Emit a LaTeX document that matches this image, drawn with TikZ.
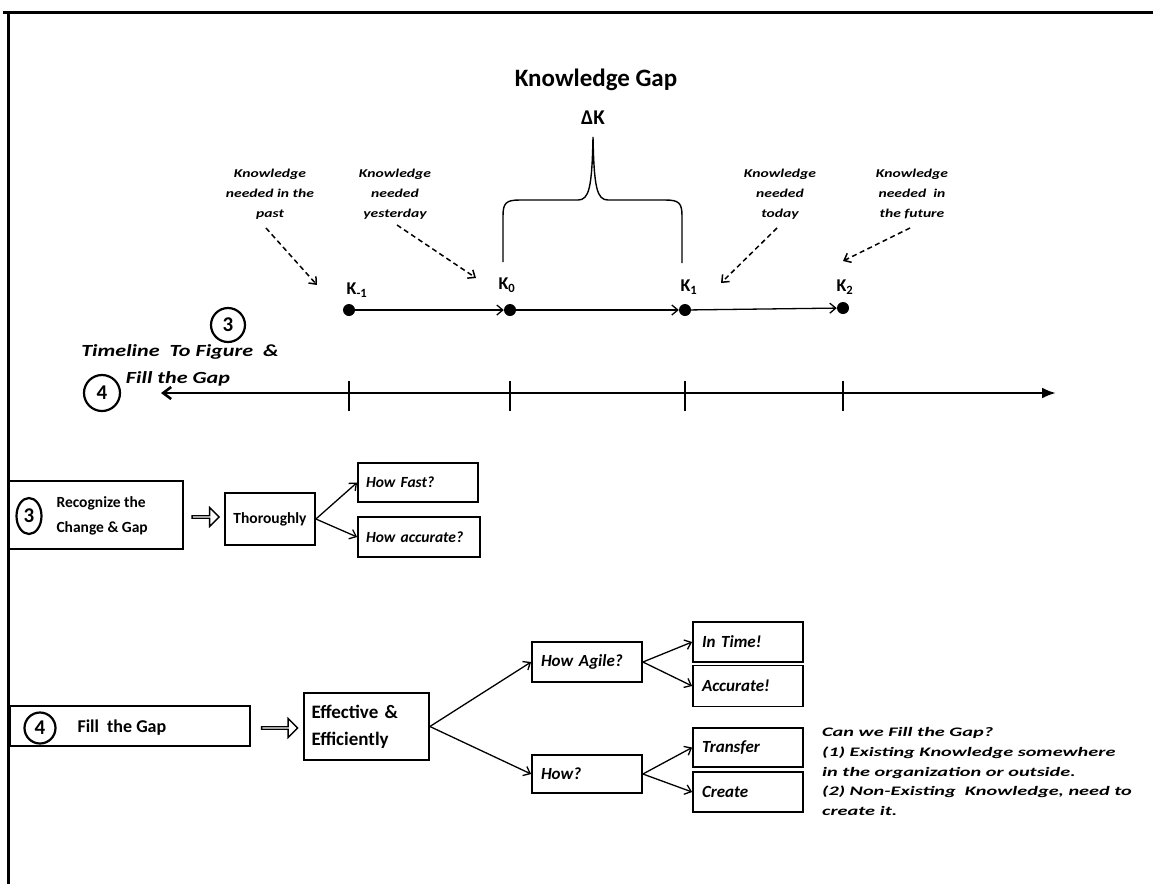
\documentclass[tikz,border=0pt]{standalone}
\usepackage{fontspec}
\setmainfont{Carlito}
\usetikzlibrary{arrows.meta,shapes.arrows,shapes.geometric}
\newcommand{\widc}[2]{\scalebox{#1}[1]{\begin{tabular}{@{}c@{}}#2\end{tabular}}}
\newcommand{\widl}[2]{\scalebox{#1}[1]{\begin{tabular}{@{}l@{}}#2\end{tabular}}}
\begin{document}
\begin{tikzpicture}[x=1pt,y=-1pt,
  txt/.style={align=left, font=\fontsize{15.5}{25}\selectfont\bfseries},
  bx/.style={draw, line width=1.8pt, rectangle, inner xsep=9pt, inner ysep=0pt, align=left, font=\fontsize{15.5}{25}\selectfont\bfseries},
  bxi/.style={bx, font=\fontsize{17}{25}\selectfont\bfseries\itshape},
  bxs/.style={bx, font=\fontsize{15.5}{25}\selectfont\bfseries\itshape},
  plainbox/.style={draw, line width=1.8pt, rectangle, inner sep=0pt},
  cnum/.style={draw, circle, line width=2.2pt, inner sep=0pt, font=\fontsize{21}{21}\selectfont\bfseries},
  kdot/.style={circle, fill, inner sep=0pt, minimum size=12pt},
  conn/.style={line width=1.3pt, -{Straight Barb[length=6pt,width=10pt]}},
  dconn/.style={line width=1.5pt, dash pattern=on 5pt off 3.5pt, -{Straight Barb[length=6pt,width=10pt]}},
  hollow/.style={draw, single arrow, line width=1.3pt, minimum width=19pt, single arrow head extend=4.5pt, inner sep=0pt},
  lbl/.style={align=center, font=\fontsize{12}{20}\selectfont\bfseries\itshape},
  klbl/.style={font=\fontsize{18}{18}\selectfont\bfseries},
]
\useasboundingbox (0,0) rectangle (1153,884);
% frame
\draw[line width=3pt] (3,12) -- (1153,12);
\draw[line width=3pt] (8,12) -- (8,884);

% title
\node[font=\fontsize{25}{25}\selectfont\bfseries] (title) at (596,80) {Knowledge Gap};
\node[font=\fontsize{21}{21}\selectfont\bfseries] (dk) at (593,118) {ΔK};

% brace
\draw[line width=1.4pt] (503,262) -- (503,216) .. controls (503,203) and (506,200) .. (520,200) -- (578,200)
  .. controls (589,200) and (592,188) .. (593,137) .. controls (594,188) and (597,200) .. (608,200)
  -- (665,200) .. controls (679,200) and (682,203) .. (682,216) -- (682,263);

% knowledge points
\node[kdot] (km1) at (349,310) {};
\node[kdot] (k0) at (510,310) {};
\node[kdot] (k1) at (685,310) {};
\node[kdot] (k2) at (843,308) {};
\draw[conn] (km1) -- (k0);
\draw[conn] (k0) -- (k1);
\draw[conn] (k1) -- (k2);

\node[klbl] (lkm1) at (357,290) {K\textsubscript{-1}};
\node[klbl] (lk0) at (507,285) {K\textsubscript{0}};
\node[klbl] (lk1) at (689,287) {K\textsubscript{1}};
\node[klbl] (lk2) at (845,287) {K\textsubscript{2}};

% small labels
\node[lbl] (lpast) at (270,193) {\widc{1.3}{Knowledge\\needed in the\\past}};
\node[lbl] (lyest) at (395,193) {\widc{1.3}{Knowledge\\needed\\yesterday}};
\node[lbl] (ltoday) at (780,193) {\widc{1.3}{Knowledge\\needed\\today}};
\node[lbl] (lfut) at (912,193) {\widc{1.3}{Knowledge\\needed\ \ in\\the future}};

\coordinate (ps) at (266,228); \coordinate (pe) at (317,285);
\coordinate (ys) at (397,225); \coordinate (ye) at (476,278);
\coordinate (ts) at (777,228); \coordinate (te) at (721,283);
\coordinate (fs) at (910,228); \coordinate (fe) at (843,261);
\draw[dconn] (ps) -- (pe);
\draw[dconn] (ys) -- (ye);
\draw[dconn] (ts) -- (te);
\draw[dconn] (fs) -- (fe);

% timeline
\coordinate (tl) at (161,393);
\coordinate (tr) at (1056,393);
\draw[line width=2.6pt, {Straight Barb[length=8pt,width=12pt]}-{Latex[length=14pt,width=11pt]}] (tl) -- (tr);
\foreach \x in {349,510,685,843} { \draw[line width=1.6pt] (\x,381) -- (\x,411); }

\node[cnum, minimum size=34pt] (c3t) at (228,325) {\textbf{3}};
\node[font=\fontsize{17}{17}\selectfont\bfseries\itshape] (tlt1) at (180,352) {\scalebox{1.3}[1]{Timeline\ \ To Figure\ \ \&}};
\node[font=\fontsize{17}{17}\selectfont\bfseries\itshape] (tlt2) at (178,379) {\scalebox{1.3}[1]{Fill the Gap}};
\node[cnum, minimum size=36pt] (c4t) at (102,393) {\textbf{4}};

% recognize row
\node[plainbox, minimum width=175pt, minimum height=68pt] (recbox) at (95.5,515) {};
\node[cnum, ellipse, minimum width=25pt, minimum height=36pt] (c3b) at (29,516) {\textbf{3}};
\node[txt, anchor=west] (rectext) at (53,516) {Recognize the\\Change \& Gap};
\node[hollow, minimum height=27pt] (h1) at (205,517) {};
\node[bx, minimum width=90pt, minimum height=52pt, inner xsep=6pt] (thor) at (270,519) {Thoroughly};
\node[bxs, minimum width=120pt, minimum height=39pt, text width=104pt, inner xsep=8pt] (fast) at (418,482.5) {How Fast?};
\node[bxs, minimum width=122pt, minimum height=40pt, text width=106pt, inner xsep=8pt] (acc) at (419,537) {How accurate?};
\draw[conn] (thor.east) -- (fast.west);
\draw[conn] (thor.east) -- (acc.west);

% fill row
\node[plainbox, minimum width=240pt, minimum height=40pt] (fillbox) at (130,726) {};
\node[cnum, minimum size=31pt] (c4b) at (40,728) {\textbf{4}};
\node[txt, anchor=west, font=\fontsize{18}{25}\selectfont\bfseries] (filltext) at (74,728) {Fill\ \ the Gap};
\node[hollow, minimum height=36pt] (h2) at (279,728) {};
\node[bx, minimum width=125pt, minimum height=67pt, text width=110pt, inner xsep=7.5pt, font=\fontsize{19}{27}\selectfont\bfseries] (eff) at (366.5,726.5) {Effective \&\\Efficiently};
\node[bxi, minimum width=110pt, minimum height=40pt, text width=92pt] (agile) at (587,662) {How Agile?};
\node[bxi, minimum width=110pt, minimum height=38pt, text width=92pt] (how) at (587,774) {How?};
\node[bxi, minimum width=110pt, minimum height=40pt, text width=92pt] (intime) at (748,642) {In Time!};
\node[bxi, minimum width=110pt, minimum height=41pt, text width=92pt] (accur) at (748,686) {Accurate!};
\node[bxi, minimum width=110pt, minimum height=39pt, text width=92pt] (transfer) at (748,747.5) {Transfer};
\node[bxi, minimum width=110pt, minimum height=40pt, text width=92pt] (create) at (748,792) {Create};
\draw[conn] (eff.east) -- (agile.west);
\draw[conn] (eff.east) -- (how.west);
\draw[conn] (agile.east) -- (intime.west);
\draw[conn] (agile.east) -- (accur.west);
\draw[conn] (how.east) -- (transfer.west);
\draw[conn] (how.east) -- (create.west);

% note
\node[anchor=north west, inner sep=0pt, font=\fontsize{13}{19.6}\selectfont\bfseries\itshape] (note) at (822,723)
  {\widl{1.56}{Can we Fill the Gap?\\(1) Existing Knowledge somewhere\\in the organization or outside.\\(2) Non-Existing\ \ Knowledge, need to\\create it.}};
\end{tikzpicture}
\end{document}
